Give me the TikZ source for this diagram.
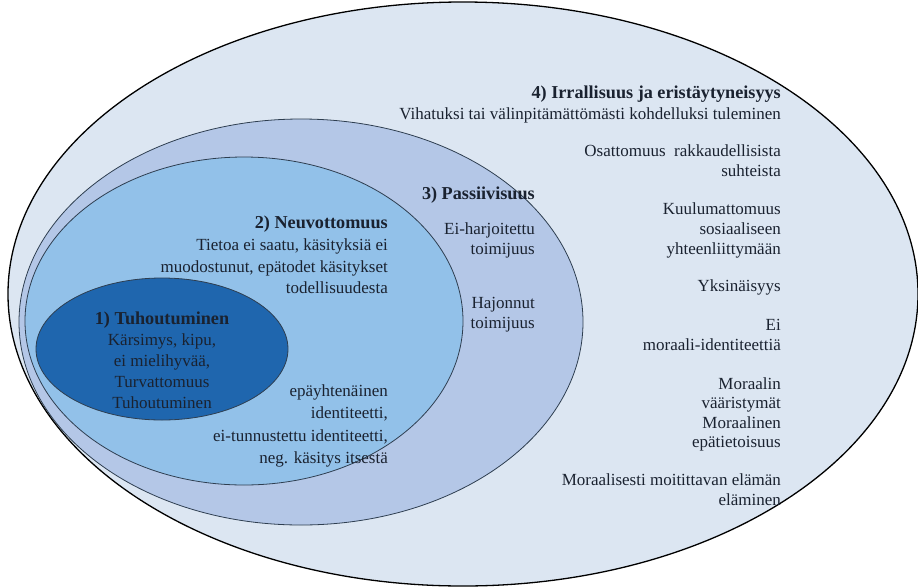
\documentclass[tikz,border=0pt]{standalone}
\usepackage{fontspec}
\setmainfont{Liberation Serif}
\usetikzlibrary{shapes.geometric}
\definecolor{c4}{HTML}{DCE6F2}
\definecolor{c3}{HTML}{B4C7E7}
\definecolor{c2}{HTML}{92C1E9}
\definecolor{c1}{HTML}{1F66AE}
\definecolor{txt}{HTML}{1A2230}
\definecolor{edge}{HTML}{2E3E50}
\newcommand{\ttl}[1]{{\fontsize{18.2}{20}\selectfont\bfseries #1}}
\begin{document}
\begin{tikzpicture}[x=1pt,y=-1pt,
  ring/.style={ellipse, inner sep=0pt, draw=edge, line width=0.8pt},
  lbl/.style={inner sep=0pt, align=right, anchor=north east, text=txt,
    font=\fontsize{17}{20}\selectfont},
  lblc/.style={inner sep=0pt, align=center, text=txt,
    font=\fontsize{17}{21}\selectfont}]
\useasboundingbox (0,0) rectangle (918,587);
\node[ring, draw=black, line width=1.3pt, fill=c4, minimum width=910pt, minimum height=584pt] (e4) at (463,294) {};
\node[ring, fill=c3, minimum width=564pt, minimum height=406pt] (e3) at (301,322) {};
\node[ring, fill=c2, minimum width=438pt, minimum height=328pt] (e2) at (244,321) {};
\node[ring, fill=c1, minimum width=252pt, minimum height=142pt] (e1) at (162,349) {};

\node[lbl, font=\fontsize{17}{20.2}\selectfont] (t4) at (781,86) {\ttl{4) Irrallisuus ja eristäytyneisyys}\\Vihatuksi tai välinpitämättömästi kohdelluksi tuleminen};
\node[lbl] (t4a) at (781,144.5) {Osattomuus~ rakkaudellisista\\suhteista};
\node[lbl] (t4b) at (781,202.5) {Kuulumattomuus\\sosiaaliseen\\yhteenliittymään};
\node[lbl] (t4c) at (781,279.5) {Yksinäisyys};
\node[lbl] (t4d) at (781,319.5) {Ei\\moraali-identiteettiä};
\node[lbl, font=\fontsize{17}{19.3}\selectfont] (t4e) at (781,377.5) {Moraalin\\vääristymät\\Moraalinen\\epätietoisuus};
\node[lbl] (t4f) at (781,473.5) {Moraalisesti moitittavan elämän\\eläminen};

\node[lbl] (t3) at (535,187) {\ttl{3) Passiivisuus}};
\node[lbl] (t3a) at (535,222.5) {Ei-harjoitettu\\toimijuus};
\node[lbl] (t3b) at (535,297.5) {Hajonnut\\toimijuus};

\node[lbl, font=\fontsize{17}{21.6}\selectfont] (t2) at (388,216) {\ttl{2) Neuvottomuus}\\Tietoa ei saatu, käsityksiä ei\\muodostunut, epätodet käsitykset\\todellisuudesta};
\node[lbl, font=\fontsize{17}{22.3}\selectfont] (t2b) at (388,384.5) {epäyhtenäinen\\identiteetti,\\ei-tunnustettu identiteetti,\\neg. käsitys itsestä};

\node[lblc] (t1) at (162,360) {\ttl{1) Tuhoutuminen}\\Kärsimys, kipu,\\ei mielihyvää,\\Turvattomuus\\Tuhoutuminen};
\end{tikzpicture}
\end{document}
